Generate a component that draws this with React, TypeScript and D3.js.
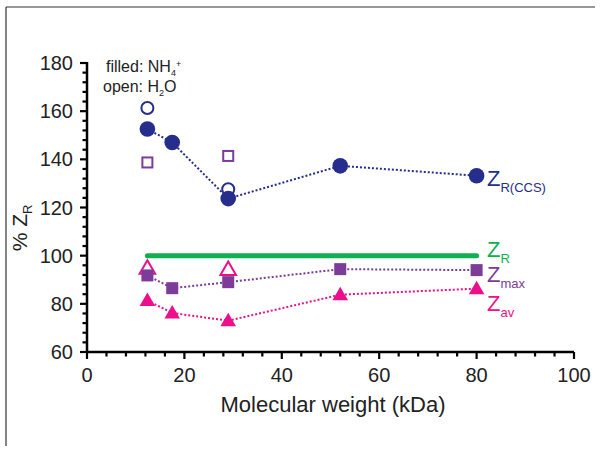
import React from "react";
import * as d3 from "d3";

const W = 601, H = 453;
const xDomain = [0, 100];
const yDomain = [60, 180];
const xTicks = [0, 20, 40, 60, 80, 100];
const yTicks = [60, 80, 100, 120, 140, 160, 180];

const mw = [12.4, 17.5, 29, 52, 80];
const zrCcsFilled = [152.6, 147, 123.7, 137.3, 133.2];
const zmaxFilled = [91.8, 86.5, 89, 94.4, 94];
const zavFilled = [81.4, 76.2, 73, 83.8, 86.3];
const mwOpen = [12.4, 29];
const zrCcsOpen = [161.3, 127.6];
const zmaxOpen = [138.7, 141.4];
const zavOpen = [94.8, 94.3];
const zrLine = [{ x: 12.4, y: 100 }, { x: 80, y: 100 }];

const NAVY = "#262d8c";
const PURPLE = "#7d3c98";
const PINK = "#ec0f8c";
const GREEN = "#0fb04f";
const FONT = "'Liberation Sans', Arial, sans-serif";

export default function App() {
  const x = d3.scaleLinear().domain(xDomain).range([87, 574]);
  const y = d3.scaleLinear().domain(yDomain).range([352, 63]);
  const line = d3.line<[number, number]>().x(d => x(d[0])).y(d => y(d[1]));
  const tri = d3.symbol().type(d3.symbolTriangle).size(105);
  const minorX = d3.range(0, 101, 4).filter(v => v % 20 !== 0);
  const minorY = d3.range(60, 181, 4).filter(v => v % 20 !== 0);
  const pts = (ys: number[], xs = mw) => xs.map((v, i) => [v, ys[i]] as [number, number]);

  return (
    <svg width={W} height={H} style={{ position: "absolute", left: 0, top: 0, background: "#fff" }} fontFamily={FONT}>
      <line x1={6} y1={7} x2={595} y2={7} stroke="#333" strokeWidth={1.2} />
      <line x1={6} y1={7} x2={6} y2={446} stroke="#333" strokeWidth={1.2} />

      {/* axes */}
      <line x1={x(0) - 1} y1={y(60)} x2={x(100)} y2={y(60)} stroke="#000" strokeWidth={2.5} />
      <line x1={x(0)} y1={y(60)} x2={x(0)} y2={y(180) - 1} stroke="#000" strokeWidth={2.5} />
      {xTicks.map(t => (
        <g key={"xt" + t}>
          <line x1={x(t)} x2={x(t)} y1={y(60)} y2={y(60) + 7} stroke="#000" strokeWidth={2.2} />
          <text x={x(t)} y={y(60) + 30} fontSize={20} textAnchor="middle" fill="#222">{t}</text>
        </g>
      ))}
      {minorX.map(t => (
        <line key={"xm" + t} x1={x(t)} x2={x(t)} y1={y(60)} y2={y(60) + 4.5} stroke="#000" strokeWidth={2.2} />
      ))}
      {yTicks.map(t => (
        <g key={"yt" + t}>
          <line x1={x(0) - 7} x2={x(0)} y1={y(t)} y2={y(t)} stroke="#000" strokeWidth={2.2} />
          <text x={x(0) - 14} y={y(t) + 7} fontSize={20} textAnchor="end" fill="#222">{t}</text>
        </g>
      ))}
      {minorY.map(t => (
        <line key={"ym" + t} x1={x(0) - 4.5} x2={x(0)} y1={y(t)} y2={y(t)} stroke="#000" strokeWidth={2.2} />
      ))}
      <text x={333} y={412} fontSize={22} textAnchor="middle" fill="#222">Molecular weight (kDa)</text>
      <text transform={`translate(27,228) rotate(-90)`} fontSize={21} textAnchor="middle" fill="#222">
        % Z<tspan fontSize={13} dy={5}>R</tspan>
      </text>

      {/* legend note */}
      <text x={106} y={72} fontSize={16} fill="#222">filled: NH<tspan fontSize={9} dy={4}>4</tspan><tspan fontSize={9} dy={-9}>+</tspan></text>
      <text x={103} y={92} fontSize={16} fill="#222">open: H<tspan fontSize={9} dy={4}>2</tspan><tspan dy={-4}>O</tspan></text>

      {/* ZR line */}
      <path d={line(zrLine.map(d => [d.x, d.y]) as [number, number][]) || ""} stroke={GREEN} strokeWidth={5} fill="none" strokeLinecap="round" />

      {/* dotted lines */}
      <path d={line(pts(zrCcsFilled)) || ""} stroke={NAVY} strokeWidth={2} strokeDasharray="2,2" fill="none" />
      <path d={line(pts(zmaxFilled)) || ""} stroke={PURPLE} strokeWidth={2} strokeDasharray="2,2" fill="none" />
      <path d={line(pts(zavFilled)) || ""} stroke={PINK} strokeWidth={2} strokeDasharray="2,2" fill="none" />

      {/* open markers */}
      {pts(zrCcsOpen, mwOpen).map((p, i) => (
        <circle key={"co" + i} cx={x(p[0])} cy={y(p[1])} r={6} fill="#fff" stroke={NAVY} strokeWidth={2} />
      ))}
      {pts(zmaxOpen, mwOpen).map((p, i) => (
        <rect key={"so" + i} x={x(p[0]) - 5} y={y(p[1]) - 5} width={10} height={10} fill="#fff" stroke={PURPLE} strokeWidth={2} />
      ))}
      {pts(zavOpen, mwOpen).map((p, i) => (
        <path key={"to" + i} d={tri() || ""} transform={`translate(${x(p[0])},${y(p[1]) + 1})`} fill="#fff" stroke={PINK} strokeWidth={2} />
      ))}

      {/* filled markers */}
      {pts(zrCcsFilled).map((p, i) => (
        <circle key={"cf" + i} cx={x(p[0])} cy={y(p[1])} r={7.8} fill={NAVY} />
      ))}
      {pts(zmaxFilled).map((p, i) => (
        <rect key={"sf" + i} x={x(p[0]) - 6} y={y(p[1]) - 6} width={12} height={12} fill={PURPLE} />
      ))}
      {pts(zavFilled).map((p, i) => (
        <path key={"tf" + i} d={tri() || ""} transform={`translate(${x(p[0])},${y(p[1]) + 1})`} fill={PINK} />
      ))}

      {/* series labels */}
      <text x={487} y={186} fontSize={22} fill={NAVY}>Z<tspan fontSize={13} dy={6}>R(CCS)</tspan></text>
      <text x={487} y={257} fontSize={22} fill={GREEN}>Z<tspan fontSize={13} dy={6}>R</tspan></text>
      <text x={487} y={282} fontSize={22} fill={PURPLE}>Z<tspan fontSize={13} dy={6}>max</tspan></text>
      <text x={487} y={311} fontSize={22} fill={PINK}>Z<tspan fontSize={13} dy={6}>av</tspan></text>
    </svg>
  );
}
